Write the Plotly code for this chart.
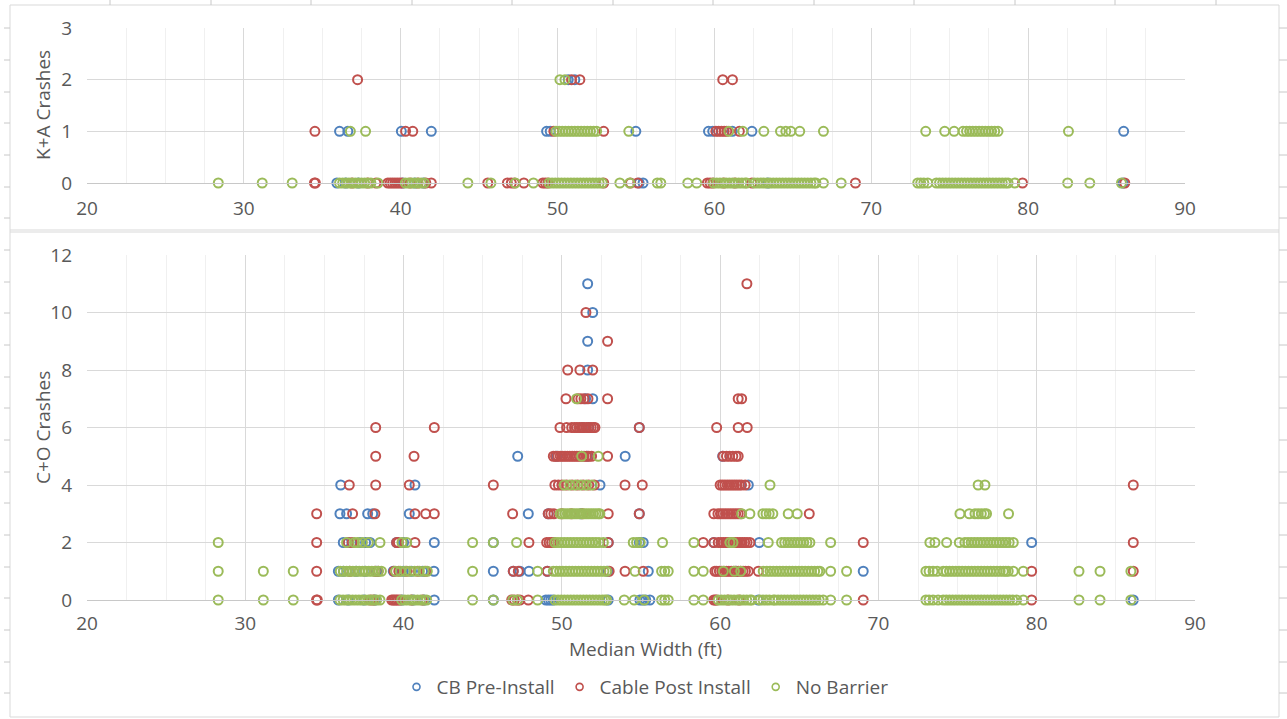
import plotly.graph_objects as go

# ---------------- data (x = median width in ft, grouped by crash count) -------------
series_names = ["CB Pre-Install", "Cable Post Install", "No Barrier"]
series_colors = ["#4F81BD", "#C0504D", "#9BBB59"]

# K+A crashes (top chart)
ka_blue_y0 = [35.93, 36.5, 37.3, 40.14, 40.9, 41.45, 55.2, 55.45, 63.41, 86.05]
ka_blue_y1 = [36.1, 36.63, 40.04, 41.95, 49.3, 49.53, 54.99, 59.62, 59.89, 61.14, 62.39, 86.09]
ka_blue_y2 = [50.68, 51.1]

ka_red_y0 = [34.5, 34.56, 36.9, 37.9, 38.42, 39.18, 39.33, 39.48, 39.63, 39.78, 39.93, 40.08,
             40.6, 41.1, 41.6, 41.95, 45.55, 46.8, 47.05, 47.25, 47.85, 49.06, 49.22, 49.38,
             52.94, 54.65, 55.11, 59.55, 59.72, 59.9, 60.6, 61.3, 62.39, 68.99, 79.64, 86.16]
ka_red_y1 = [34.53, 40.31, 40.77, 49.76, 52.94, 60.09, 60.27, 60.45, 60.62, 60.79, 61.59]
ka_red_y2 = [37.25, 50.89, 51.42, 60.53, 61.15]

ka_green_y0 = [28.37, 31.17, 33.08, 36.1, 36.3, 36.5, 36.7, 36.9, 37.1, 37.3, 37.5, 37.7, 37.9,
               38.1, 38.55, 40.3, 40.5, 40.7, 40.9, 41.1, 41.3, 41.5, 44.28, 45.75, 47.3, 48.46,
               49.45, 49.65, 49.85, 50.05, 50.25, 50.45, 50.65, 50.85, 51.05, 51.25, 51.45, 51.65,
               51.85, 52.05, 52.25, 52.45, 52.65, 52.85, 53.97, 54.6, 56.36, 56.58, 58.3, 58.87,
               59.95, 60.15, 60.35, 60.55, 60.75, 60.95, 61.15, 61.35, 61.55, 61.75, 61.95, 62.05,
               62.55, 62.75, 62.95, 63.15, 63.35, 63.55, 63.75, 63.95, 64.15, 64.35, 64.55, 64.75,
               64.95, 65.15, 65.35, 65.55, 65.75, 65.95, 66.15, 66.35, 66.47, 66.95, 68.08,
               72.96, 73.15, 73.35, 73.6, 74.15, 74.35, 74.55, 74.75, 74.95, 75.15, 75.35, 75.55,
               75.75, 75.95, 76.15, 76.35, 76.55, 76.75, 76.95, 77.15, 77.35, 77.55, 77.75, 77.95,
               78.15, 78.35, 78.55, 78.72, 79.15, 82.52, 83.93, 85.95]
ka_green_y1 = [36.79, 37.76, 49.9, 50.1, 50.3, 50.5, 50.7, 50.9, 51.1, 51.3, 51.5, 51.7, 51.9,
               52.1, 52.3, 52.49, 54.54, 60.92, 61.81, 63.15, 64.21, 64.55, 64.87, 65.44, 66.95,
               73.47, 74.68, 75.28, 75.85, 76.07, 76.27, 76.47, 76.67, 76.87, 77.07, 77.27, 77.47,
               77.67, 77.87, 78.08, 82.57]
ka_green_y2 = [50.15, 50.47]

# C+O crashes (bottom chart)
co_blue_y11 = [51.63]
co_blue_y10 = [51.95]
co_blue_y9 = [51.63]
co_blue_y8 = [51.63]
co_blue_y7 = [51.5, 51.95]
co_blue_y6 = [51.3, 51.7, 54.89]
co_blue_y5 = [47.21, 49.67, 51.6, 54.0, 60.16]
co_blue_y4 = [36.03, 40.72, 52.41, 61.78]
co_blue_y3 = [35.98, 36.4, 37.73, 38.05, 40.36, 47.88, 49.14, 51.2, 54.89]
co_blue_y2 = [36.19, 36.5, 37.25, 37.6, 37.88, 39.56, 40.0, 41.94, 45.67, 52.93, 54.9, 55.14,
              59.6, 62.47, 79.68]
co_blue_y1 = [35.88, 36.2, 37.0, 37.56, 38.3, 39.35, 39.98, 40.5, 41.2, 41.92, 45.67, 46.93,
              47.35, 47.92, 49.08, 52.9, 55.46, 61.0, 69.04]
co_blue_y0 = [35.88, 36.5, 37.5, 38.2, 39.9, 40.6, 41.3, 41.94, 45.67, 48.99, 49.15, 49.3,
              49.45, 52.93, 54.93, 55.1, 55.3, 55.56, 62.41, 86.1]

co_red_y11 = [61.69]
co_red_y10 = [51.52]
co_red_y9 = [52.89]
co_red_y8 = [50.37, 51.14, 51.95]
co_red_y7 = [50.26, 51.02, 51.2, 51.4, 51.65, 52.89, 61.14, 61.36]
co_red_y6 = [38.24, 41.94, 49.88, 50.3, 50.62, 50.8, 50.95, 51.1, 51.25, 51.4, 51.55, 51.7,
             51.85, 52.0, 52.09, 54.89, 59.78, 61.14, 61.71]
co_red_y5 = [38.24, 40.66, 49.46, 49.6, 49.75, 49.9, 50.05, 50.2, 50.35, 50.5, 50.65, 50.8,
             50.95, 51.1, 51.25, 51.4, 51.55, 51.7, 51.88, 52.89, 60.18, 60.4, 60.6, 60.8,
             61.0, 61.14]
co_red_y4 = [36.57, 38.24, 40.36, 45.67, 49.56, 49.78, 50.0, 50.3, 50.65, 51.0, 51.35, 51.7,
             52.05, 53.99, 55.08, 60.0, 60.15, 60.3, 60.45, 60.6, 60.75, 60.9, 61.05, 61.2,
             61.35, 61.58, 86.1]
co_red_y3 = [34.51, 36.78, 38.19, 40.72, 41.4, 41.94, 46.89, 49.14, 49.3, 49.5, 50.0, 50.6,
             51.3, 52.93, 54.89, 59.6, 59.86, 60.02, 60.18, 60.34, 60.5, 60.66, 60.82, 60.98,
             61.14, 61.3, 65.63]
co_red_y2 = [34.51, 36.5, 36.75, 39.56, 39.67, 40.72, 47.92, 49.04, 49.2, 49.35, 49.5, 52.93,
             58.93, 59.6, 59.88, 60.05, 60.2, 60.35, 60.5, 60.65, 60.8, 60.95, 61.1, 61.25,
             61.4, 61.55, 61.7, 61.88, 69.04, 86.1]
co_red_y1 = [34.51, 36.6, 38.2, 38.4, 39.4, 39.7, 40.2, 40.9, 41.4, 46.93, 47.25, 49.08, 52.99,
             53.99, 55.14, 59.67, 59.78, 59.95, 60.1, 60.25, 60.4, 60.55, 60.7, 60.85, 61.0,
             61.15, 61.3, 61.45, 61.6, 61.78, 62.41, 79.68, 86.1]
co_red_y0 = [34.5, 34.55, 37.9, 38.1, 39.25, 39.35, 39.45, 39.55, 39.65, 39.77, 40.5, 41.2,
             46.83, 47.0, 47.2, 47.35, 47.88, 59.6, 59.7, 59.78, 60.5, 61.2, 69.04, 79.68]

co_green_y7 = [50.93]
co_green_y5 = [51.25, 52.3]
co_green_y4 = [50.15, 50.5, 50.85, 51.2, 51.55, 51.9, 63.15, 76.3, 76.73]
co_green_y3 = [49.9, 50.05, 50.2, 50.35, 50.5, 50.65, 50.8, 50.95, 51.1, 51.25, 51.4, 51.55,
               51.7, 51.85, 52.0, 52.15, 52.3, 52.4, 61.36, 61.88, 62.7, 62.9, 63.1, 63.33,
               64.3, 64.87, 75.15, 75.74, 76.1, 76.3, 76.5, 76.7, 76.83, 78.22]
co_green_y2 = [28.29, 36.4, 36.9, 37.1, 37.4, 37.77, 38.51, 39.9, 40.2, 44.36, 45.67, 47.14,
               49.56, 49.75, 49.95, 50.15, 50.35, 50.55, 50.75, 50.95, 51.15, 51.35, 51.55,
               51.75, 51.95, 52.15, 52.35, 52.62, 54.51, 54.72, 54.95, 56.36, 58.34, 60.62,
               60.81, 63.04, 63.88, 64.08, 64.28, 64.48, 64.68, 64.88, 65.08, 65.28, 65.48,
               65.67, 66.98, 73.25, 73.57, 74.31, 75.11, 75.46, 75.66, 75.86, 76.06, 76.26,
               76.46, 76.66, 76.86, 77.06, 77.26, 77.46, 77.66, 77.86, 78.06, 78.26, 78.52]
co_green_y1 = [28.29, 31.14, 33.03, 36.0, 36.2, 36.4, 36.6, 36.8, 37.0, 37.2, 37.4, 37.6, 37.8,
               38.0, 38.2, 38.4, 38.6, 39.5, 39.8, 40.1, 40.4, 40.7, 41.0, 41.3, 41.5, 44.36,
               48.47, 49.46, 49.66, 49.86, 50.06, 50.26, 50.46, 50.66, 50.86, 51.06, 51.26,
               51.46, 51.66, 51.86, 52.06, 52.26, 52.46, 52.66, 52.83, 54.62, 56.3, 56.5, 56.72,
               58.34, 58.93, 60.2, 60.9, 61.3, 62.72, 62.95, 63.15, 63.36, 63.57, 63.77, 63.97,
               64.17, 64.37, 64.57, 64.77, 64.97, 65.17, 65.37, 65.57, 65.77, 65.97, 66.17, 66.3,
               66.98, 67.99, 73.0, 73.2, 73.45, 73.71, 74.09, 74.29, 74.49, 74.69, 74.89, 75.09,
               75.29, 75.49, 75.69, 75.89, 76.09, 76.29, 76.49, 76.69, 76.89, 77.09, 77.29,
               77.49, 77.69, 77.89, 78.05, 78.2, 78.52, 79.15, 82.67, 84.0, 85.95]
co_green_y0 = [28.29, 31.14, 33.03, 35.98, 36.18, 36.38, 36.58, 36.78, 36.98, 37.18, 37.38,
               37.58, 37.78, 37.98, 38.15, 38.3, 38.51, 39.88, 40.08, 40.28, 40.48, 40.68, 40.88,
               41.08, 41.28, 41.46, 44.36, 45.67, 46.9, 47.2, 48.47, 49.56, 49.76, 49.96, 50.16,
               50.36, 50.56, 50.76, 50.96, 51.16, 51.36, 51.56, 51.76, 51.96, 52.16, 52.36,
               52.56, 52.72, 52.83, 53.94, 54.57, 55.2, 56.3, 56.5, 56.72, 58.34, 58.93, 59.88,
               60.08, 60.28, 60.48, 60.68, 60.88, 61.08, 61.28, 61.48, 61.68, 61.88, 61.99, 62.51,
               62.71, 62.91, 63.11, 63.36, 63.46, 63.66, 63.86, 64.06, 64.26, 64.46, 64.66, 64.86,
               65.06, 65.26, 65.46, 65.66, 65.86, 66.06, 66.26, 66.51, 66.98, 67.99, 73.0, 73.2,
               73.45, 73.77, 74.09, 74.29, 74.49, 74.69, 74.89, 75.09, 75.29, 75.49, 75.69,
               75.89, 76.09, 76.29, 76.49, 76.69, 76.89, 77.09, 77.29, 77.49, 77.69, 77.89,
               78.09, 78.29, 78.49, 78.73, 79.15, 82.67, 84.0, 85.95]

ka_levels = [0, 1, 2]
co_levels = [0, 1, 2, 3, 4, 5, 6, 7, 8, 9, 10, 11]

ka_groups = [
    [ka_blue_y0, ka_blue_y1, ka_blue_y2],
    [ka_red_y0, ka_red_y1, ka_red_y2],
    [ka_green_y0, ka_green_y1, ka_green_y2],
]
co_groups = [
    [co_blue_y0, co_blue_y1, co_blue_y2, co_blue_y3, co_blue_y4, co_blue_y5, co_blue_y6,
     co_blue_y7, co_blue_y8, co_blue_y9, co_blue_y10, co_blue_y11],
    [co_red_y0, co_red_y1, co_red_y2, co_red_y3, co_red_y4, co_red_y5, co_red_y6,
     co_red_y7, co_red_y8, co_red_y9, co_red_y10, co_red_y11],
    [co_green_y0, co_green_y1, co_green_y2, co_green_y3, co_green_y4, co_green_y5,
     [], co_green_y7, [], [], [], []],
]


def flatten(groups, levels):
    xs, ys = [], []
    for lvl, vals in zip(levels, groups):
        xs.extend(vals)
        ys.extend([lvl] * len(vals))
    return xs, ys


# ---------------- figure -------------
W, H = 1287, 719
FONT = "Open Sans"
TXT = "#595959"
FS = 19


def px(x):
    return x / W


def py(y):
    return 1 - y / H


def mk(color, size, width):
    return dict(symbol="circle-open", size=size, color=color,
                line=dict(width=width, color=color))


fig = go.Figure()
for i, name in enumerate(series_names):
    x1, y1 = flatten(ka_groups[i], ka_levels)
    fig.add_trace(go.Scatter(
        x=x1, y=y1, mode="markers", name=name, legendgroup=name, showlegend=False,
        xaxis="x", yaxis="y", cliponaxis=False, marker=mk(series_colors[i], 9, 2.0),
        hoverinfo="x+y"))
for i, name in enumerate(series_names):
    x2, y2 = flatten(co_groups[i], co_levels)
    fig.add_trace(go.Scatter(
        x=x2, y=y2, mode="markers", name=name, legendgroup=name, showlegend=False,
        xaxis="x2", yaxis="y2", cliponaxis=False, marker=mk(series_colors[i], 9, 2.0),
        hoverinfo="x+y"))
# legend entries (smaller symbols, as in the reference legend)
for i, name in enumerate(series_names):
    fig.add_trace(go.Scatter(
        x=[None], y=[None], mode="markers", name=name, legendgroup=name, showlegend=True,
        xaxis="x2", yaxis="y2", marker=mk(series_colors[i], 7, 1.6)))

xcommon = dict(range=[20, 90], tick0=20, dtick=10, showgrid=True, gridcolor="#D9D9D9",
               gridwidth=1, zeroline=False, showline=True, linecolor="#C8C8C8", linewidth=1,
               ticks="", automargin=False,
               minor=dict(dtick=2.5, showgrid=True, gridcolor="#F0F0F0", gridwidth=1),
               tickfont=dict(family=FONT, size=FS, color=TXT), fixedrange=True)
ycommon = dict(showgrid=True, gridcolor="#D9D9D9", gridwidth=1, zeroline=False,
               showline=False, ticks="", ticklabelstandoff=14, automargin=False,
               tickfont=dict(family=FONT, size=FS, color=TXT), fixedrange=True)

fig.update_layout(
    width=W, height=H, autosize=False,
    margin=dict(l=0, r=0, t=0, b=0, pad=0, autoexpand=False),
    paper_bgcolor="white", plot_bgcolor="white",
    font=dict(family=FONT, size=FS, color=TXT),
    xaxis=dict(domain=[px(87), px(1185)], anchor="y", ticklabelstandoff=8, **xcommon),
    yaxis=dict(domain=[py(183), py(28)], anchor="x", range=[0, 3], dtick=1, **ycommon),
    xaxis2=dict(domain=[px(87), px(1195)], anchor="y2", ticklabelstandoff=6, **xcommon),
    yaxis2=dict(domain=[py(600), py(255)], anchor="x2", range=[0, 12], dtick=2, **ycommon),
    showlegend=True,
    legend=dict(orientation="h", x=px(645), xanchor="center", y=py(687), yanchor="middle",
                font=dict(family=FONT, size=FS, color=TXT), bgcolor="rgba(0,0,0,0)",
                itemclick=False, itemdoubleclick=False),
    annotations=[
        dict(text="K+A Crashes", x=px(43), y=py(105), xref="paper", yref="paper",
             textangle=-90, showarrow=False, xanchor="center", yanchor="middle",
             font=dict(family=FONT, size=FS, color=TXT)),
        dict(text="C+O Crashes", x=px(43), y=py(428), xref="paper", yref="paper",
             textangle=-90, showarrow=False, xanchor="center", yanchor="middle",
             font=dict(family=FONT, size=FS, color=TXT)),
        dict(text="Median Width (ft)", x=px(646), y=py(649), xref="paper", yref="paper",
             showarrow=False, xanchor="center", yanchor="middle",
             font=dict(family=FONT, size=FS, color=TXT)),
    ],
)

# spreadsheet frame decoration
shapes = []
FRAME = "#D9D9D9"
TICKC = "#C8C8C8"
frame_h = [5, 230, 232, 717]
for yy in frame_h:
    shapes.append(dict(type="line", xref="paper", yref="paper", x0=px(10), x1=px(1279),
                       y0=py(yy), y1=py(yy), line=dict(color=FRAME, width=1)))
for xx in [10, 1279]:
    shapes.append(dict(type="line", xref="paper", yref="paper", x0=px(xx), x1=px(xx),
                       y0=py(5), y1=py(717), line=dict(color=FRAME, width=1)))
top_ticks = [110, 211, 311, 412, 512, 613, 713, 814, 914, 1015, 1115, 1216]
for xx in top_ticks:
    shapes.append(dict(type="line", xref="paper", yref="paper", x0=px(xx), x1=px(xx),
                       y0=py(0), y1=py(5), line=dict(color=TICKC, width=1)))
side_ticks = [28, 60, 92, 123, 155, 187, 218, 250, 282, 313, 345, 377, 408, 440, 472, 503,
              535, 567, 598, 630, 662, 693]
for yy in side_ticks:
    shapes.append(dict(type="line", xref="paper", yref="paper", x0=px(4), x1=px(10),
                       y0=py(yy), y1=py(yy), line=dict(color=TICKC, width=1)))
    shapes.append(dict(type="line", xref="paper", yref="paper", x0=px(1279), x1=px(1287),
                       y0=py(yy), y1=py(yy), line=dict(color=TICKC, width=1)))
fig.update_layout(shapes=shapes)

fig.write_html("out.html", config={"displayModeBar": False},
               post_script="document.body.style.margin='0';document.body.style.overflow='hidden';")
